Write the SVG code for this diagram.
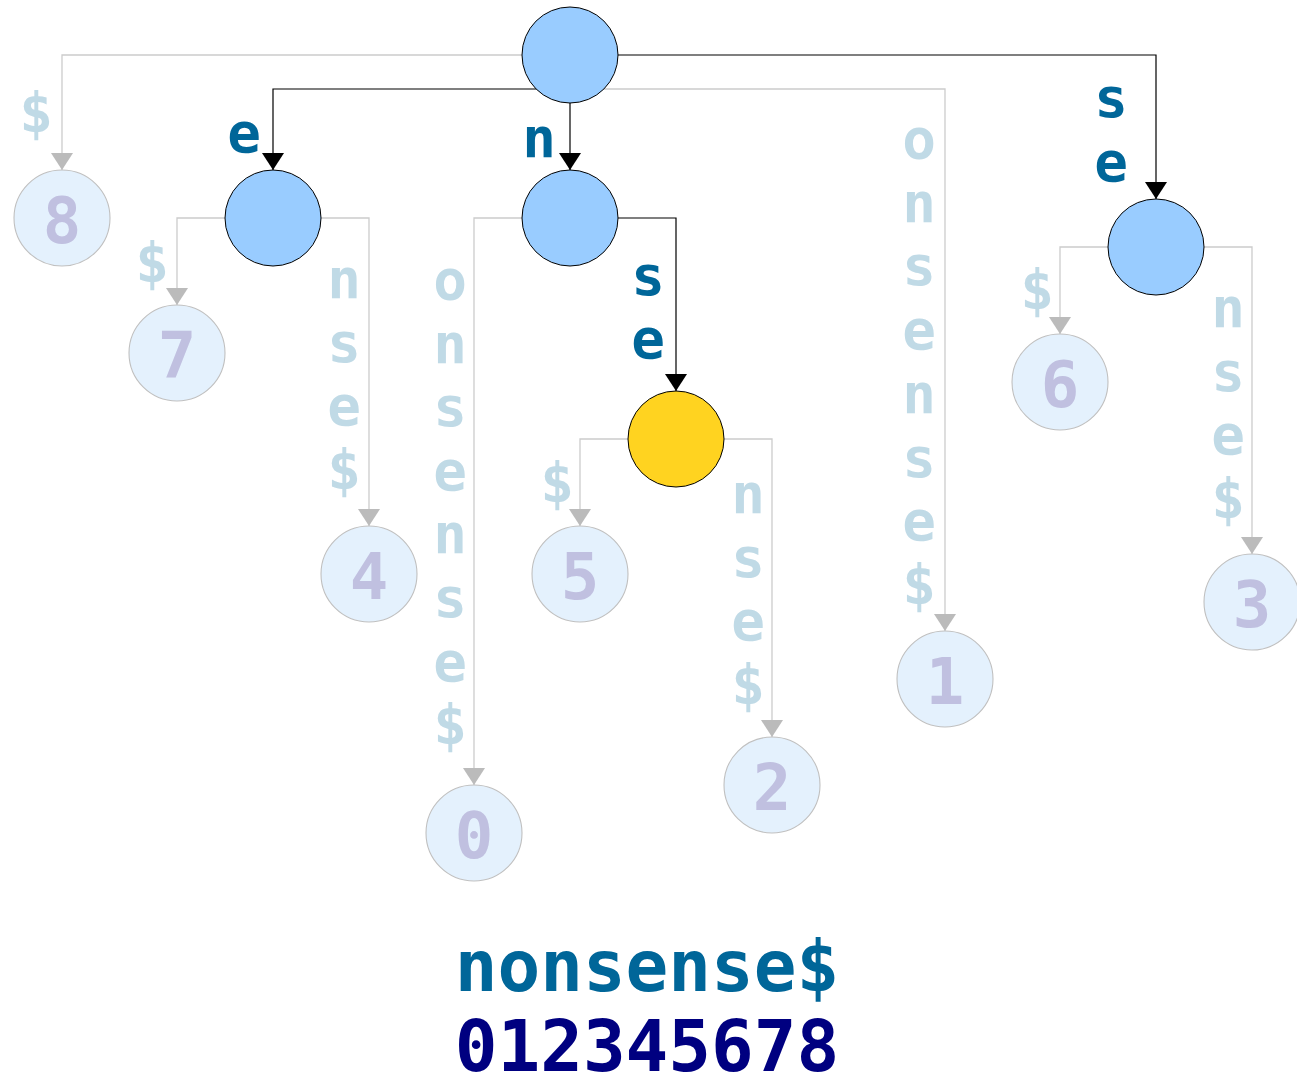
<svg xmlns="http://www.w3.org/2000/svg" width="1297" height="1079" viewBox="0 0 1297 1079">
<style>
.inner{fill:#99ccff;stroke:#000;stroke-width:1}
.mark{fill:#ffd320;stroke:#000;stroke-width:1}
.leaf{fill:#e4f1fd;stroke:#c0c0c0;stroke-width:1.1}
.num{font-family:"DejaVu Sans Mono",monospace;font-weight:bold;font-size:64px;fill:#c0c0e0;text-anchor:middle}
.lb{font-family:"DejaVu Sans Mono",monospace;font-weight:bold;font-size:56px;text-anchor:middle}
.lbk{fill:#006699}
.lgr{fill:#c0dae6}
.ek{fill:none;stroke:#000;stroke-width:1.2;marker-end:url(#ak)}
.eg{fill:none;stroke:#cccccc;stroke-width:1.3;marker-end:url(#ag)}
.big{font-family:"DejaVu Sans Mono",monospace;font-weight:bold;font-size:71px;text-anchor:middle}
</style>
<defs>
<marker id="ak" viewBox="0 0 17 22" refX="17" refY="11" markerWidth="17" markerHeight="22" markerUnits="userSpaceOnUse" orient="auto"><path d="M0,0 L17,11 L0,22 z" fill="#000"/></marker>
<marker id="ag" viewBox="0 0 17 22" refX="17" refY="11" markerWidth="17" markerHeight="22" markerUnits="userSpaceOnUse" orient="auto"><path d="M0,0 L17,11 L0,22 z" fill="#bbbbbb"/></marker>
</defs>
<rect width="1297" height="1079" fill="#fff"/>
<g id="connectors">
<path class="eg" d="M522,55 H62 V170"/>
<path class="ek" d="M536,89 H273 V170"/>
<path class="ek" d="M570,103 V170"/>
<path class="eg" d="M604,89 H945 V631"/>
<path class="ek" d="M618,55 H1156 V199"/>
<path class="eg" d="M225,218 H177 V305"/>
<path class="eg" d="M321,218 H369 V526"/>
<path class="eg" d="M522,218 H474 V785"/>
<path class="ek" d="M618,218 H676 V391"/>
<path class="eg" d="M628,439 H580 V526"/>
<path class="eg" d="M724,439 H772 V737"/>
<path class="eg" d="M1108,247 H1060 V334"/>
<path class="eg" d="M1204,247 H1252 V554"/>
</g>
<g id="edge-labels">
<text class="lb lgr" x="36" y="132">$</text>
<text class="lb lbk" x="244" y="152">e</text>
<text class="lb lbk" x="539" y="157">n</text>
<text class="lb lgr" x="919" y="158"><tspan x="919">o</tspan><tspan x="919" dy="63.7">n</tspan><tspan x="919" dy="63.7">s</tspan><tspan x="919" dy="63.7">e</tspan><tspan x="919" dy="63.7">n</tspan><tspan x="919" dy="63.7">s</tspan><tspan x="919" dy="63.7">e</tspan><tspan x="919" dy="63.7">$</tspan></text>
<text class="lb lbk" x="1111" y="117"><tspan x="1111">s</tspan><tspan x="1111" dy="64">e</tspan></text>
<text class="lb lgr" x="152" y="282">$</text>
<text class="lb lgr" x="344" y="298"><tspan x="344">n</tspan><tspan x="344" dy="63.7">s</tspan><tspan x="344" dy="63.7">e</tspan><tspan x="344" dy="63.7">$</tspan></text>
<text class="lb lgr" x="450" y="299"><tspan x="450">o</tspan><tspan x="450" dy="63.6">n</tspan><tspan x="450" dy="63.6">s</tspan><tspan x="450" dy="63.6">e</tspan><tspan x="450" dy="63.6">n</tspan><tspan x="450" dy="63.6">s</tspan><tspan x="450" dy="63.6">e</tspan><tspan x="450" dy="63.6">$</tspan></text>
<text class="lb lbk" x="648" y="295"><tspan x="648">s</tspan><tspan x="648" dy="63">e</tspan></text>
<text class="lb lgr" x="557" y="502">$</text>
<text class="lb lgr" x="748" y="513"><tspan x="748">n</tspan><tspan x="748" dy="63.7">s</tspan><tspan x="748" dy="63.7">e</tspan><tspan x="748" dy="63.7">$</tspan></text>
<text class="lb lgr" x="1037" y="309">$</text>
<text class="lb lgr" x="1228" y="327"><tspan x="1228">n</tspan><tspan x="1228" dy="63.7">s</tspan><tspan x="1228" dy="63.7">e</tspan><tspan x="1228" dy="63.7">$</tspan></text>
</g>
<g id="node-root"><circle class="inner" cx="570" cy="55" r="48"/></g>
<g id="node-e"><circle class="inner" cx="273" cy="218" r="48"/></g>
<g id="node-n"><circle class="inner" cx="570" cy="218" r="48"/></g>
<g id="node-se"><circle class="inner" cx="1156" cy="247" r="48"/></g>
<g id="node-nse"><circle class="mark" cx="676" cy="439" r="48"/></g>
<g id="leaf-8"><circle class="leaf" cx="62" cy="218" r="48"/><text class="num" x="62" y="243">8</text></g>
<g id="leaf-7"><circle class="leaf" cx="177" cy="353" r="48"/><text class="num" x="177" y="378">7</text></g>
<g id="leaf-4"><circle class="leaf" cx="369" cy="574" r="48"/><text class="num" x="369" y="599">4</text></g>
<g id="leaf-0"><circle class="leaf" cx="474" cy="833" r="48"/><text class="num" x="474" y="858">0</text></g>
<g id="leaf-5"><circle class="leaf" cx="580" cy="574" r="48"/><text class="num" x="580" y="599">5</text></g>
<g id="leaf-2"><circle class="leaf" cx="772" cy="785" r="48"/><text class="num" x="772" y="810">2</text></g>
<g id="leaf-1"><circle class="leaf" cx="945" cy="679" r="48"/><text class="num" x="945" y="704">1</text></g>
<g id="leaf-6"><circle class="leaf" cx="1060" cy="382" r="48"/><text class="num" x="1060" y="407">6</text></g>
<g id="leaf-3"><circle class="leaf" cx="1252" cy="602" r="48"/><text class="num" x="1252" y="627">3</text></g>
<g id="caption">
<text class="big" x="647" y="991" fill="#006699">nonsense$</text>
<text class="big" x="647" y="1071" fill="#000080">012345678</text>
</g>
</svg>
